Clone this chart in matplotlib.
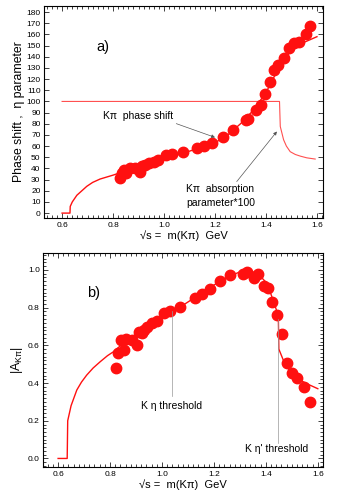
import matplotlib
matplotlib.use('Agg')
import matplotlib.pyplot as plt
from matplotlib.ticker import MultipleLocator

plt.rcParams['font.family'] = ['Liberation Sans', 'DejaVu Sans']
plt.rcParams['mathtext.fontset'] = 'custom'
plt.rcParams['mathtext.rm'] = 'Liberation Sans'
plt.rcParams['mathtext.it'] = 'Liberation Sans'

RED = '#ff1010'

# ---- panel a) : K pi phase shift (deg) ----
ps_m = [0.828, 0.834, 0.842, 0.852, 0.867, 0.887, 0.904, 0.913, 0.926, 0.942,
        0.961, 0.978, 1.007, 1.033, 1.074, 1.129, 1.158, 1.19, 1.23, 1.27,
        1.32, 1.33, 1.36, 1.38, 1.395, 1.414, 1.43, 1.447, 1.469, 1.489,
        1.508, 1.53, 1.558, 1.574]
ps_deg = [31, 36, 39, 36, 40, 40, 37, 42, 43, 45,
          46, 48, 52, 53, 55, 58, 60, 63, 68, 74,
          83, 84, 92, 97, 107, 117, 128, 133, 139, 148,
          152, 153, 160, 168]

# fitted phase shift curve
fit_m = [0.60, 0.631, 0.632, 0.64, 0.658, 0.68, 0.697, 0.72, 0.749, 0.80, 0.85,
         0.90, 0.95, 1.00, 1.05, 1.10, 1.15, 1.20, 1.25, 1.30, 1.35, 1.40,
         1.45, 1.50, 1.55, 1.60]
fit_deg = [0, 0, 6, 10, 16, 20.5, 24, 27.5, 30.5, 34, 38,
           41, 45, 48.5, 52, 55.5, 59, 63, 70, 80, 92, 108,
           130, 146, 153, 158]

# absorption parameter * 100
eta_m = [0.60, 1.453, 1.456, 1.469, 1.48, 1.495, 1.515, 1.535, 1.56, 1.593]
eta_v = [100, 100, 77.6, 65.7, 60, 55, 52.5, 51, 49.5, 48.4]

# ---- panel b) : |A_Kpi| ----
amp_m = [0.823, 0.832, 0.841, 0.854, 0.862, 0.884, 0.903, 0.913, 0.922, 0.932,
         0.941, 0.961, 0.98, 1.006, 1.029, 1.07, 1.128, 1.153, 1.185, 1.224,
         1.262, 1.311, 1.327, 1.355, 1.371, 1.391, 1.41, 1.423, 1.442, 1.461,
         1.48, 1.50, 1.519, 1.547, 1.568]
amp_v = [0.48, 0.557, 0.628, 0.575, 0.632, 0.628, 0.602, 0.673, 0.664, 0.681,
         0.699, 0.717, 0.731, 0.773, 0.782, 0.802, 0.85, 0.871, 0.897, 0.942,
         0.973, 0.979, 0.991, 0.956, 0.979, 0.915, 0.903, 0.832, 0.761, 0.658,
         0.504, 0.451, 0.425, 0.381, 0.301]

amp_fit_m = [0.60, 0.635, 0.637, 0.65, 0.672, 0.69, 0.71, 0.735, 0.762, 0.79, 0.813,
             0.85, 0.90, 0.95, 1.00, 1.05, 1.10, 1.15, 1.20, 1.25, 1.30, 1.34,
             1.37, 1.40, 1.42, 1.44, 1.448, 1.450, 1.467, 1.493, 1.532, 1.56, 1.60]
amp_fit_v = [0.0, 0.0, 0.2, 0.28, 0.363, 0.405, 0.442, 0.48, 0.513, 0.545, 0.566,
             0.61, 0.66, 0.70, 0.74, 0.785, 0.83, 0.875, 0.92, 0.96, 0.99, 0.995,
             0.98, 0.935, 0.87, 0.79, 0.75, 0.58, 0.522, 0.46, 0.416, 0.395, 0.37]

fig = plt.figure(figsize=(3.45, 4.98), dpi=100)
ax1 = fig.add_axes([0.1275, 0.562, 0.809, 0.426])
ax2 = fig.add_axes([0.1255, 0.062, 0.81, 0.430])

for ax in (ax1, ax2):
    ax.tick_params(which='both', direction='in', top=True, right=True,
                   labelsize=6, width=0.6, color='#222222', pad=2.5)
    ax.tick_params(which='major', length=3.5)
    ax.tick_params(which='minor', length=2)
    ax.xaxis.set_major_locator(MultipleLocator(0.2))
    ax.xaxis.set_minor_locator(MultipleLocator(0.02))
    for s in ax.spines.values():
        s.set_linewidth(0.8)
    ax.set_xlabel('\u221as =  m(K\u03c0)  GeV', fontsize=8, labelpad=1.5)

# panel a
ax1.plot(eta_m, eta_v, '-', color='#ff5050', lw=0.8)
ax1.plot(fit_m, fit_deg, '-', color=RED, lw=1.0)
ax1.plot(ps_m, ps_deg, 'o', color=RED, ms=7.5, mec=RED)
ax1.set_xlim(0.529, 1.624)
ax1.set_ylim(-4.5, 185.5)
ax1.yaxis.set_major_locator(MultipleLocator(10))
ax1.set_ylabel('Phase shift ,  \u03b7 parameter', fontsize=8.8, labelpad=1)
ax1.text(0.735, 149, 'a)', fontsize=10.5, va='center')
ax1.annotate('K\u03c0  phase shift', xy=(1.20, 67.8), xytext=(0.762, 86.6),
             fontsize=7.5, va='center',
             arrowprops=dict(arrowstyle='-|>', color='#555555', lw=0.5,
                             mutation_scale=5, shrinkA=0, shrinkB=0,
                             relpos=(0.95, 0.0)))
ax1.annotate('K\u03c0  absorption\nparameter*100', xy=(1.453, 76),
             xytext=(1.087, 15), fontsize=7.5, va='center', linespacing=1.5,
             arrowprops=dict(arrowstyle='-|>', color='#555555', lw=0.5,
                             mutation_scale=5, shrinkA=0, shrinkB=3,
                             relpos=(0.7, 1.0)))

# panel b
ax2.plot(amp_fit_m, amp_fit_v, '-', color=RED, lw=1.0)
ax2.plot(amp_m, amp_v, 'o', color=RED, ms=7.5, mec=RED)
ax2.set_xlim(0.543, 1.619)
ax2.set_ylim(-0.046, 1.09)
ax2.yaxis.set_major_locator(MultipleLocator(0.2))
ax2.yaxis.set_minor_locator(MultipleLocator(0.02))
ax2.set_ylabel(r'$|A_{K\pi}|$', fontsize=9, labelpad=2)
ax2.text(0.71, 0.876, 'b)', fontsize=10.5, va='center')
ax2.plot([1.04, 1.04], [0.78, 0.33], color='#999999', lw=0.5)
ax2.text(1.038, 0.278, 'K \u03b7 threshold', fontsize=7.5, ha='center', va='center')
ax2.plot([1.446, 1.446], [0.74, 0.08], color='#999999', lw=0.5)
ax2.text(1.44, 0.051, "K \u03b7' threshold", fontsize=7.5, ha='center', va='center')

fig.savefig('out.png', dpi=100)
